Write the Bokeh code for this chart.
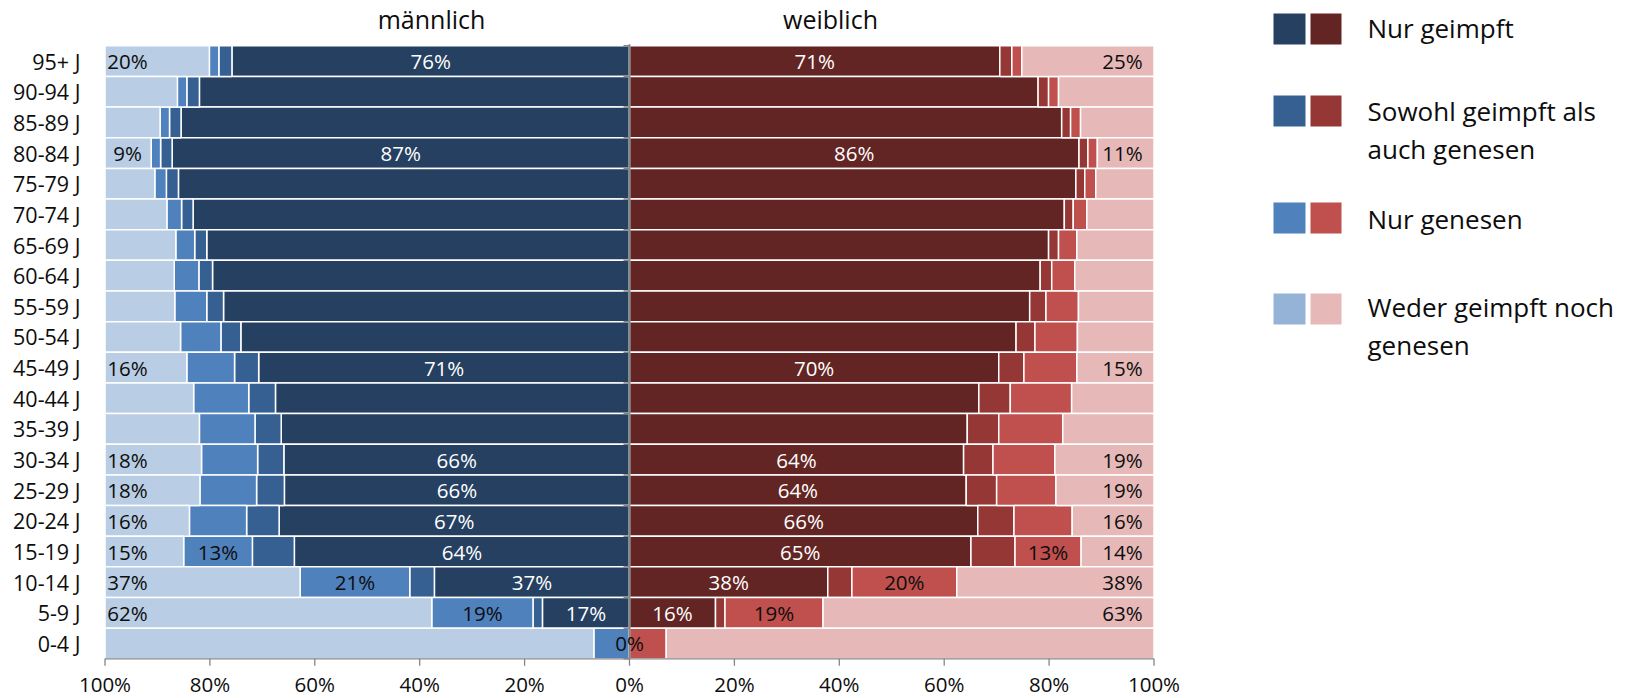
from bokeh.plotting import figure
from bokeh.models import Range1d, ColumnDataSource
from bokeh.core.properties import value
from bokeh.embed import file_html
from bokeh.resources import INLINE

# ---------------- data ----------------
categories = ["95+ J", "90-94 J", "85-89 J", "80-84 J", "75-79 J", "70-74 J", "65-69 J",
              "60-64 J", "55-59 J", "50-54 J", "45-49 J", "40-44 J", "35-39 J", "30-34 J",
              "25-29 J", "20-24 J", "15-19 J", "10-14 J", "5-9 J", "0-4 J"]

series_names = ["Nur geimpft", "Sowohl geimpft als\nauch genesen", "Nur genesen",
                "Weder geimpft noch\ngenesen"]

male_geimpft = [75.8, 82.0, 85.5, 87.2, 86.0, 83.2, 80.6, 79.5, 77.4, 74.1, 70.7, 67.5, 66.4,
                65.9, 65.8, 66.8, 63.9, 37.2, 16.6, 0.0]
male_sowohl = [2.5, 2.4, 2.2, 2.2, 2.3, 2.2, 2.3, 2.6, 3.2, 3.8, 4.6, 5.1, 5.0, 5.0, 5.3, 6.2,
               8.0, 4.7, 1.8, 0.0]
male_genesen = [1.8, 1.8, 1.8, 1.8, 2.2, 2.8, 3.6, 4.7, 6.1, 7.7, 9.1, 10.5, 10.6, 10.7, 10.8,
                10.9, 13.1, 20.9, 19.3, 6.8]
male_weder = [19.9, 13.8, 10.5, 8.8, 9.5, 11.8, 13.5, 13.2, 13.3, 14.4, 15.6, 16.9, 18.0, 18.4,
              18.1, 16.1, 15.0, 37.2, 62.3, 93.2]

female_geimpft = [70.6, 77.9, 82.4, 85.7, 85.1, 82.9, 79.9, 78.3, 76.3, 73.7, 70.4, 66.6, 64.4,
                  63.7, 64.2, 66.4, 65.1, 37.8, 16.4, 0.0]
female_sowohl = [2.3, 2.0, 1.7, 1.7, 1.7, 1.7, 1.9, 2.2, 3.1, 3.6, 4.8, 6.0, 6.0, 5.6, 5.8, 6.9,
                 8.4, 4.6, 1.8, 0.0]
female_genesen = [1.9, 1.9, 1.9, 1.8, 2.1, 2.6, 3.5, 4.4, 6.2, 8.1, 10.1, 11.7, 12.2, 11.8, 11.3,
                  11.1, 12.6, 20.0, 18.7, 7.0]
female_weder = [25.2, 18.2, 14.0, 10.8, 11.1, 12.8, 14.7, 15.1, 14.4, 14.6, 14.7, 15.7, 17.4,
                18.9, 18.7, 15.6, 13.9, 37.6, 63.1, 93.0]

# rows that carry data labels
labeled_rows = ["95+ J", "80-84 J", "45-49 J", "30-34 J", "25-29 J", "20-24 J", "15-19 J",
                "10-14 J", "5-9 J"]
male_geimpft_labeled = labeled_rows + ["0-4 J"]
genesen_labeled = ["15-19 J", "10-14 J", "5-9 J"]

tick_values = [-100, -80, -60, -40, -20, 0, 20, 40, 60, 80, 100]
tick_labels = ["100%", "80%", "60%", "40%", "20%", "0%", "20%", "40%", "60%", "80%", "100%"]

group_titles = ["männlich", "weiblich"]

# ---------------- styles ----------------
FONT = "Open Sans"
male_colors = ["#254061", "#376092", "#4F81BD", "#B9CDE5"]
female_colors = ["#632523", "#953735", "#C0504D", "#E6B9B8"]
legend_male_colors = ["#254061", "#376092", "#4F81BD", "#95B3D7"]
legend_female_colors = ["#632523", "#953735", "#C0504D", "#E6B9B8"]
AXIS_GRAY = "#868686"
TEXT = "#0d0d0d"

W, H = 1636, 698
PX_PER_PCT = 5.245      # screen px per percent
ZERO_X = 629            # canvas x of 0 %
BAR_BOTTOM = 658.3      # canvas y of the bottom edge of the last bar
ROW_PX = 30.65          # px per category row


def dx(px):
    return (px - ZERO_X) / PX_PER_PCT


def dy(py):
    return -0.5 + (BAR_BOTTOM - py) / ROW_PX


n = len(categories)
ys = [n - 1 - i for i in range(n)]

p = figure(width=W, height=H,
           x_range=Range1d(dx(0), dx(W)), y_range=Range1d(dy(H), dy(0)),
           output_backend="svg", toolbar_location=None,
           min_border_left=0, min_border_right=0, min_border_top=0, min_border_bottom=0,
           x_axis_location=None, y_axis_location=None, outline_line_color=None)
p.grid.visible = False
p.background_fill_color = "white"
p.border_fill_color = "white"


def stacked(values_list, sign):
    out = []
    cum = [0.0] * n
    for vals in values_list:
        a = [sign * c for c in cum]
        cum = [c + v for c, v in zip(cum, vals)]
        b = [sign * c for c in cum]
        out.append((a, b))
    return out


male_series = [male_geimpft, male_sowohl, male_genesen, male_weder]
female_series = [female_geimpft, female_sowohl, female_genesen, female_weder]
male_stack = stacked(male_series, -1)
female_stack = stacked(female_series, 1)

for stack, colors in ((male_stack, male_colors), (female_stack, female_colors)):
    for (a, b), col in zip(stack, colors):
        src = ColumnDataSource(dict(y=ys, left=[min(u, v) for u, v in zip(a, b)],
                                    right=[max(u, v) for u, v in zip(a, b)]))
        p.hbar(y="y", left="left", right="right", height=1.0, source=src,
               fill_color=col, line_color="white", line_width=1.5)

# value axis (bottom): line, ticks, labels
bottom = -0.5
p.segment(x0=[tick_values[0]], y0=[bottom], x1=[tick_values[-1]], y1=[bottom],
          line_color=AXIS_GRAY, line_width=1.3)
p.segment(x0=tick_values, y0=[bottom] * len(tick_values), x1=tick_values,
          y1=[bottom - 7 / ROW_PX] * len(tick_values), line_color=AXIS_GRAY, line_width=1.3)
p.text(x=tick_values, y=[dy(683.5)] * len(tick_values), text=tick_labels,
       text_font=value(FONT), text_font_size="20.5px", text_color=TEXT,
       text_align="center", text_baseline="middle")

# center category axis with tick marks
p.segment(x0=[0], y0=[-0.5], x1=[0], y1=[n - 0.5 + 0.05], line_color=AXIS_GRAY, line_width=2)
bounds_y = [i - 0.5 for i in range(n + 1)]
p.segment(x0=[-6 / PX_PER_PCT] * len(bounds_y), y0=bounds_y, x1=[0] * len(bounds_y), y1=bounds_y,
          line_color=AXIS_GRAY, line_width=1.5)

# data labels
WEDER_MALE_X = -95.7
WEDER_FEMALE_X = 94.0


def add_labels(stack, series, idx, rows, color, fixed_x=None):
    xs, yy, tx, cols = [], [], [], []
    a, b = stack[idx]
    for i, cat in enumerate(categories):
        if cat in rows:
            xs.append(fixed_x if fixed_x is not None else (a[i] + b[i]) / 2)
            yy.append(ys[i])
            v = series[idx][i]
            tx.append(f"{round(v)}%")
            # a zero-width segment's label sits on the light bars -> dark text
            cols.append(color if v >= 1 else TEXT)
    p.text(x=xs, y=yy, text=tx, text_font=value(FONT), text_font_size="20.5px",
           text_color=cols, text_align="center", text_baseline="middle")


add_labels(male_stack, male_series, 0, male_geimpft_labeled, "white")
add_labels(male_stack, male_series, 2, genesen_labeled, TEXT)
add_labels(male_stack, male_series, 3, labeled_rows, TEXT, WEDER_MALE_X)
add_labels(female_stack, female_series, 0, labeled_rows, "white")
add_labels(female_stack, female_series, 2, genesen_labeled, TEXT)
add_labels(female_stack, female_series, 3, labeled_rows, TEXT, WEDER_FEMALE_X)

# category labels (left)
p.text(x=[dx(80)] * n, y=ys, text=categories, text_font=value(FONT), text_font_size="21.5px",
       text_color=TEXT, text_align="right", text_baseline="middle")

# group titles
p.text(x=[dx(431), dx(830)], y=[dy(18.5)] * 2, text=group_titles, text_font=value(FONT),
       text_font_size="25px", text_color=TEXT, text_align="center", text_baseline="middle")

# legend
leg_rows_y = [28.5, 110.5, 217.5, 308.5]
leg_centers = [27.3, 110.0, 218.0, 306.0]
line_h = 38.5
p.rect(x=[dx(1289)] * 4, y=[dy(v) for v in leg_rows_y], width=32, height=31,
       width_units="screen", height_units="screen", fill_color=legend_male_colors, line_color=None)
p.rect(x=[dx(1325.5)] * 4, y=[dy(v) for v in leg_rows_y], width=31, height=31,
       width_units="screen", height_units="screen", fill_color=legend_female_colors, line_color=None)
leg_text, leg_ty = [], []
for name, cy in zip(series_names, leg_centers):
    for k, ln in enumerate(name.split("\n")):
        leg_text.append(ln)
        leg_ty.append(dy(cy + k * line_h))
p.text(x=[dx(1367)] * len(leg_text), y=leg_ty, text=leg_text, text_font=value(FONT),
       text_font_size="26px", text_color=TEXT, text_align="left", text_baseline="middle")

open("out.html", "w").write(file_html(p, INLINE))
